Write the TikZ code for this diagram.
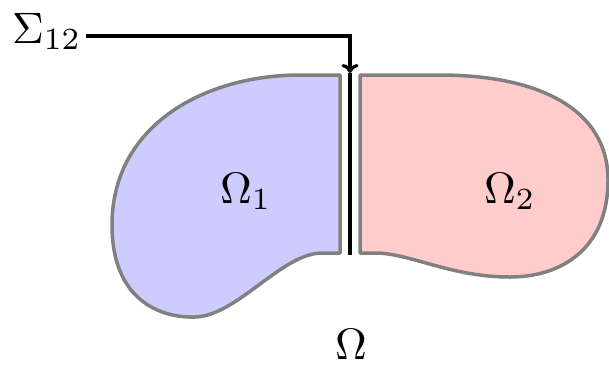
\documentclass[tikz,border=0pt]{standalone}
\usepackage{graphicx}
\usetikzlibrary{arrows.meta}
\newcommand{\bigtxt}[1]{\scalebox{4.4}{#1}}
\begin{document}
\begin{tikzpicture}[x=1pt,y=-1pt,
  region/.style={draw=gray,line width=3.5pt,line join=round},
  lbl/.style={anchor=base west,inner sep=0pt},
  iface/.style={line width=3.2pt},
  pointer/.style={line width=3.2pt,-{To[length=9pt,width=17pt]}}]
\useasboundingbox (0,0) rectangle (609,365);
% left subdomain
\fill[blue!20] (340,75) -- (300,75) .. controls (205,75) and (112,125) .. (112,225)
  .. controls (112,300) and (160,318) .. (195,317)
  .. controls (237,316) and (282,253) .. (322,253) -- (340,253) -- cycle;
\draw[region] (340,75) -- (300,75) .. controls (205,75) and (112,125) .. (112,225)
  .. controls (112,300) and (160,318) .. (195,317)
  .. controls (237,316) and (282,253) .. (322,253) -- (340,253) -- cycle;
% right subdomain
\fill[red!20] (360,75) -- (440,75) .. controls (540,75) and (608,110) .. (608,180)
  .. controls (608,250) and (560,277) .. (510,277)
  .. controls (450,277) and (410,253) .. (375,253) -- (360,253) -- cycle;
\draw[region] (360,75) -- (440,75) .. controls (540,75) and (608,110) .. (608,180)
  .. controls (608,250) and (560,277) .. (510,277)
  .. controls (450,277) and (410,253) .. (375,253) -- (360,253) -- cycle;
% labels
\node[lbl] (om1) at (220,203) {\bigtxt{$\Omega_1$}};
\node[lbl] (om2) at (484,203) {\bigtxt{$\Omega_2$}};
\node[lbl] (om) at (335,359) {\bigtxt{$\Omega$}};
\node[lbl] (sigma) at (12,43) {\bigtxt{$\Sigma_{12}$}};
% interface
\coordinate (iftop) at (350,73);
\coordinate (ifbot) at (350,255);
\draw[iface] (iftop) -- (ifbot);
\coordinate (start) at (86,36);
\draw[pointer] (start) -| (iftop);
\end{tikzpicture}
\end{document}
